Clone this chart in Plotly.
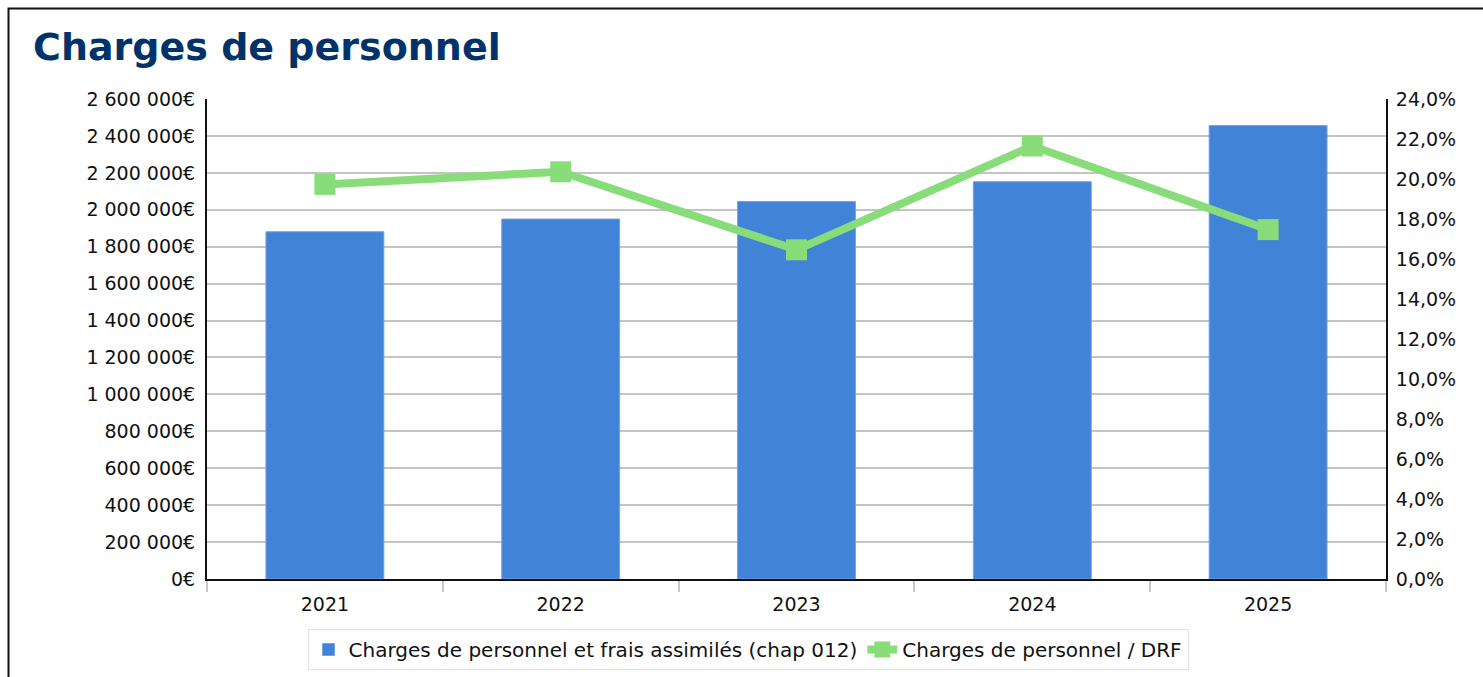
import plotly.graph_objects as go

years = ["2021", "2022", "2023", "2024", "2025"]
charges = [1881000, 1950000, 2045000, 2152000, 2456000]
ratio_drf = [19.73, 20.36, 16.46, 21.65, 17.47]

bar_name = "Charges de personnel et frais assimilés (chap 012)"
line_name = "Charges de personnel / DRF"
title_text = "Charges de personnel"

W, H = 1483, 677
L, R, T, B = 207, 97, 99, 98
pw, ph = W - L - R, H - T - B

FONT = "DejaVu Sans"

fig = go.Figure()
fig.add_trace(go.Bar(
    x=years, y=charges, name=bar_name,
    marker=dict(color="#4183d7", line=dict(color="#74a3e2", width=1)),
    yaxis="y",
))
fig.add_trace(go.Scatter(
    x=years, y=ratio_drf, name=line_name, mode="lines+markers",
    line=dict(color="#88dd7a", width=8),
    marker=dict(symbol="square", size=21, color="#88dd7a"),
    yaxis="y2",
))

# outer frame (left & top edges visible)
fig.add_shape(type="rect", xref="paper", yref="paper",
              x0=(8.5 - L) / pw, x1=(W + 10 - L) / pw,
              y0=-(B + 20) / ph, y1=(ph + T - 8.5) / ph,
              line=dict(color="#111111", width=2), fillcolor="rgba(0,0,0,0)")

fig.update_layout(
    width=W, height=H,
    margin=dict(l=L, r=R, t=T, b=B, autoexpand=False),
    paper_bgcolor="white", plot_bgcolor="white",
    separators=", ",
    font=dict(family=FONT, size=19, color="#111111"),
    bargap=0.5,
    title=dict(text=title_text, x=33 / W, xref="container", xanchor="left",
               y=1 - 47 / H, yref="container", yanchor="middle",
               font=dict(family=FONT, size=38, color="#00336a", weight="bold")),
    xaxis=dict(type="category", tickson="boundaries", ticks="outside",
               ticklen=11, tickwidth=2, tickcolor="#c8c8c8",
               showline=True, linecolor="#111111", linewidth=2,
               showgrid=False, tickfont=dict(size=19), ticklabelstandoff=7),
    yaxis=dict(range=[0, 2600000], dtick=200000, tickformat=",.0f",
               ticksuffix="€", showline=True, linecolor="#111111", linewidth=2,
               showgrid=True, gridcolor="#c4c4c4", gridwidth=2,
               zeroline=False, ticks="", tickfont=dict(size=19),
               ticklabelstandoff=6),
    yaxis2=dict(range=[0, 24], dtick=2, tickformat=".1f", ticksuffix="%",
                overlaying="y", side="right", showline=True,
                linecolor="#111111", linewidth=2, showgrid=False,
                zeroline=False, ticks="", tickfont=dict(size=19),
                ticklabelstandoff=4),
    legend=dict(orientation="h", x=(748 - L) / pw, xanchor="center",
                y=-(629 - T - ph) / ph, yanchor="top",
                bordercolor="#e2e2e2", borderwidth=1,
                font=dict(size=20), traceorder="normal"),
    showlegend=True,
)

fig.write_html("out.html")
